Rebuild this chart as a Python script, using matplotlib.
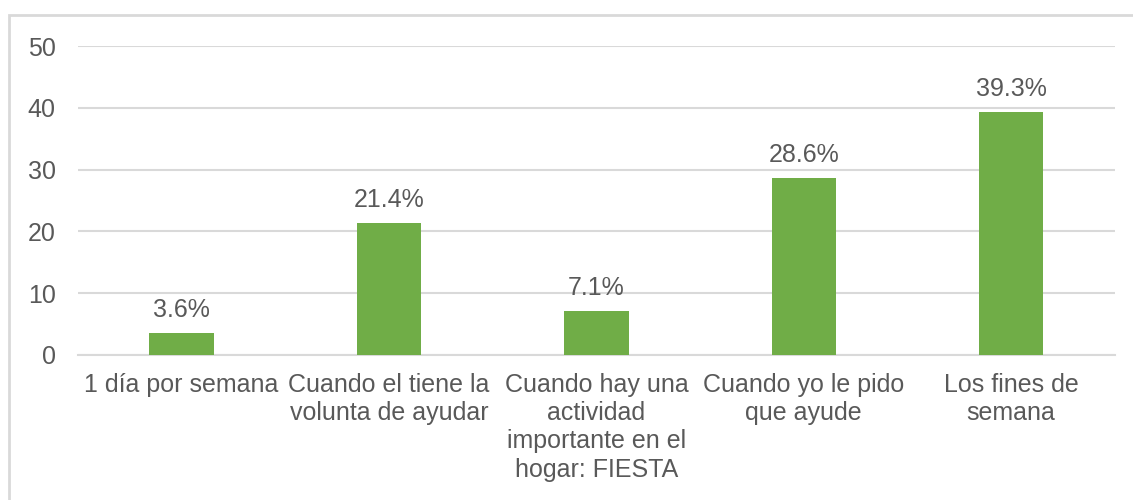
import matplotlib.pyplot as plt
from matplotlib.patches import Rectangle

plt.rcParams['font.family'] = ['Liberation Sans', 'DejaVu Sans']

categorias = ['1 día por semana',
              'Cuando el tiene la\nvolunta de ayudar',
              'Cuando hay una\nactividad\nimportante en el\nhogar: FIESTA',
              'Cuando yo le pido\nque ayude',
              'Los fines de\nsemana']
porcentajes = [3.6, 21.4, 7.1, 28.6, 39.3]
etiquetas = ['3.6%', '21.4%', '7.1%', '28.6%', '39.3%']

gris = '#595959'
verde = '#70AD47'

fig = plt.figure(figsize=(11.33, 5), dpi=100)
ax = fig.add_axes([0.0688, 0.29, 0.9152, 0.618])

x = list(range(len(categorias)))
barras = ax.bar(x, porcentajes, width=0.31, color=verde, zorder=3)
for b, txt in zip(barras, etiquetas):
    ax.annotate(txt, (b.get_x() + b.get_width() / 2, b.get_height()),
                xytext=(0, 8), textcoords='offset points',
                ha='center', va='bottom', fontsize=18, color=gris)

ax.set_xlim(-0.5, len(categorias) - 0.5)
ax.set_ylim(0, 50)
ax.set_yticks(range(0, 51, 10))
ax.set_xticks(x)
ax.set_xticklabels(categorias, linespacing=1.22)
ax.tick_params(axis='both', length=0, labelsize=18, labelcolor=gris)
ax.tick_params(axis='y', pad=16)
ax.tick_params(axis='x', pad=13)
ax.grid(axis='y', color='#D9D9D9', linewidth=1.5, zorder=0)
for lado in ['top', 'right', 'left']:
    ax.spines[lado].set_visible(False)
ax.spines['bottom'].set_color('#D9D9D9')
ax.spines['bottom'].set_linewidth(1.5)

# marco del grafico
fig.patches.append(Rectangle((9 / 1133, -0.1), 1.2, 0.97 + 0.1,
                             transform=fig.transFigure, fill=False,
                             edgecolor='#D9D9D9', linewidth=2))

fig.savefig('out.png', dpi=100)
